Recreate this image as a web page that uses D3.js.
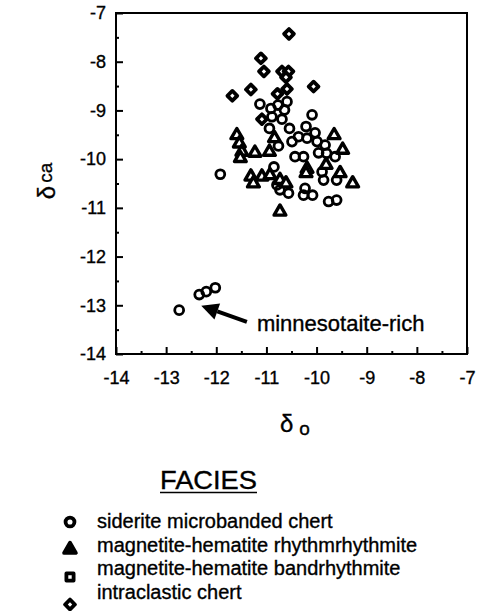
<!DOCTYPE html>
<html>
<head>
<meta charset="utf-8">
<script src="https://cdn.jsdelivr.net/npm/d3@7"></script>
<style>
  html, body { margin: 0; padding: 0; background: #fff; }
  svg { display: block; }
  text { font-family: "Liberation Sans", Arial, Helvetica, sans-serif; fill: #000; stroke: #000; stroke-width: 0.35px; }
</style>
</head>
<body>
<svg id="chart" width="480" height="611"></svg>
<script>
// δ_o / δ_ca pairs, one list per facies
const siderite = [
  [-11.13, -8.87], [-10.91, -8.96], [-10.77, -8.89], [-10.59, -8.82], [-10.64, -8.99],
  [-10.89, -9.13], [-10.69, -9.18], [-10.09, -9.09], [-10.94, -9.37], [-10.54, -9.37],
  [-10.21, -9.33], [-10.03, -9.46], [-10.36, -9.54], [-10.19, -9.57], [-10.49, -9.64],
  [-9.99, -9.64], [-9.83, -9.71], [-10.76, -9.73], [-10.43, -9.95], [-10.26, -9.95],
  [-9.96, -9.87], [-9.80, -9.88], [-9.63, -9.95], [-10.85, -10.16], [-9.89, -10.26],
  [-9.86, -10.43], [-9.60, -10.43], [-11.92, -10.31], [-10.79, -10.53], [-10.73, -10.63],
  [-10.56, -10.70], [-10.23, -10.60], [-10.08, -10.74], [-10.26, -10.74], [-9.76, -10.87],
  [-9.60, -10.84],
  // minnesotaite-rich samples
  [-12.74, -13.10], [-12.34, -12.78], [-12.20, -12.72], [-12.02, -12.64]
];
const rhythmrhythmite = [
  [-11.59, -9.51], [-11.54, -9.68], [-11.49, -9.85], [-11.52, -9.98], [-11.23, -9.87],
  [-10.94, -9.85], [-10.84, -9.57], [-9.65, -9.51], [-9.48, -9.81], [-10.19, -10.20],
  [-10.21, -10.29], [-9.81, -10.12], [-9.53, -10.29], [-9.28, -10.50], [-11.31, -10.36],
  [-11.09, -10.36], [-10.93, -10.33], [-11.26, -10.50], [-10.73, -10.43], [-10.61, -10.50],
  [-10.73, -11.08]
];
const bandrhythmite = [];
const intraclastic = [
  [-10.55, -7.43], [-11.11, -7.93], [-11.05, -8.20], [-10.69, -8.20], [-10.56, -8.20],
  [-10.61, -8.32], [-10.06, -8.51], [-11.31, -8.57], [-11.68, -8.70], [-10.59, -8.56],
  [-10.78, -8.66], [-11.09, -9.18]
];

const facies = ["siderite microbanded chert", "magnetite-hematite rhythmrhythmite",
                "magnetite-hematite bandrhythmite", "intraclastic chert"];
const majorTicks = [-14, -13, -12, -11, -10, -9, -8, -7];
const minorTicks = [-13.5, -12.5, -11.5, -10.5, -9.5, -8.5, -7.5];
// arrow pointing at the minnesotaite-rich group: [tail, tip], plus label anchor
const arrowPts = [[-11.39, -13.34], [-12.30, -13.01]];
const arrowLabel = { text: "minnesotaite-rich", at: [-11.19, -13.37] };

const svg = d3.select("#chart");
const x = d3.scaleLinear().domain([-14, -7]).range([116, 467]);
const y = d3.scaleLinear().domain([-14, -7]).range([354, 13]);

// axes with inward ticks; labels use a plain hyphen for the sign
const fmt = d => String(d);
const xMajor = d3.axisBottom(x).tickValues(majorTicks).tickSize(-7).tickPadding(17).tickFormat(fmt);
const xMinor = d3.axisBottom(x).tickValues(minorTicks).tickSize(-3).tickFormat("");
const yMajor = d3.axisLeft(y).tickValues(majorTicks).tickSize(-7).tickPadding(10).tickFormat(fmt);
const yMinor = d3.axisLeft(y).tickValues(minorTicks).tickSize(-3).tickFormat("");

function styleAxis(g) {
  g.select(".domain").remove();
  g.selectAll("line").attr("stroke", "#000").attr("stroke-width", 2);
  g.selectAll("text").attr("font-size", 18).attr("font-family", null).attr("fill", "#000");
}
svg.append("g").attr("transform", `translate(0,${y(-14)})`).call(xMajor).call(styleAxis);
svg.append("g").attr("transform", `translate(0,${y(-14)})`).call(xMinor).call(styleAxis);
svg.append("g").attr("transform", `translate(${x(-14)},0)`).call(yMajor).call(styleAxis);
svg.append("g").attr("transform", `translate(${x(-14)},0)`).call(yMinor).call(styleAxis);

// frame
svg.append("rect")
  .attr("x", x(-14)).attr("y", y(-7))
  .attr("width", x(-7) - x(-14)).attr("height", y(-14) - y(-7))
  .attr("fill", "none").attr("stroke", "#000").attr("stroke-width", 2);

// marker shapes
const shapes = {
  circle: d3.symbol().type(d3.symbolCircle).size(62),
  triangle: d3.symbol().type(d3.symbolTriangle).size(60),
  square: d3.symbol().type(d3.symbolSquare).size(52),
  diamond: d3.symbol().type(d3.symbolSquare).size(48)
};
const series = [
  { data: siderite, shape: "circle", sw: 2.8, rot: 0 },
  { data: rhythmrhythmite, shape: "triangle", sw: 3.4, rot: 0 },
  { data: bandrhythmite, shape: "square", sw: 3.4, rot: 0 },
  { data: intraclastic, shape: "diamond", sw: 3.8, rot: 45 }
];

series.forEach(s => {
  svg.append("g").selectAll("path").data(s.data).join("path")
    .attr("d", shapes[s.shape])
    .attr("transform", d => `translate(${x(d[0])},${y(d[1])}) rotate(${s.rot})`)
    .attr("fill", s.shape === "circle" ? "none" : "#fff")
    .attr("stroke", "#000")
    .attr("stroke-width", s.sw)
    .attr("stroke-linejoin", "round");
});

// annotation arrow
const [tail, tip] = arrowPts.map(p => [x(p[0]), y(p[1])]);
const ang = Math.atan2(tip[1] - tail[1], tip[0] - tail[0]);
const headLen = 17, headW = 8.5;
const base = [tip[0] - headLen * Math.cos(ang), tip[1] - headLen * Math.sin(ang)];
svg.append("line")
  .attr("x1", tail[0]).attr("y1", tail[1]).attr("x2", base[0]).attr("y2", base[1])
  .attr("stroke", "#000").attr("stroke-width", 4);
svg.append("path")
  .attr("d", d3.line()([
    tip,
    [base[0] + headW * Math.sin(ang), base[1] - headW * Math.cos(ang)],
    [base[0] - headW * Math.sin(ang), base[1] + headW * Math.cos(ang)]
  ]) + "Z")
  .attr("fill", "#000");
svg.append("text")
  .attr("x", x(arrowLabel.at[0])).attr("y", y(arrowLabel.at[1]))
  .attr("dy", "0.35em").attr("font-size", 22)
  .text(arrowLabel.text);

// axis titles
const xt = svg.append("text").attr("x", 280).attr("y", 432).attr("font-size", 24);
xt.append("tspan").text("δ");
xt.append("tspan").attr("dx", 6).attr("dy", 3).attr("font-size", 19).text("o");

const yt = svg.append("text").attr("transform", "translate(55,181) rotate(-90)")
  .attr("text-anchor", "middle").attr("font-size", 24);
yt.append("tspan").text("δ");
yt.append("tspan").attr("dx", 3).attr("dy", -3).attr("font-size", 19).text("ca");

// legend
const title = svg.append("text").attr("x", 160).attr("y", 489).attr("font-size", 25)
  .attr("textLength", 97).attr("lengthAdjust", "spacingAndGlyphs").text("FACIES");
svg.append("line").attr("x1", 160).attr("x2", 257).attr("y1", 492.5).attr("y2", 492.5)
  .attr("stroke", "#000").attr("stroke-width", 1.5);

const leg = svg.append("g");
facies.forEach((name, i) => {
  const s = series[i];
  leg.append("text").attr("x", 97).attr("y", 528 + i * 23.7).attr("font-size", 20).text(name);
  leg.append("path")
    .attr("d", shapes[s.shape])
    .attr("transform", `translate(70,${522 + i * 27.5}) rotate(${s.rot})`)
    .attr("fill", s.shape === "triangle" ? "#000" : "#fff")
    .attr("stroke", "#000").attr("stroke-width", 3.8).attr("stroke-linejoin", "round");
});
</script>
</body>
</html>
